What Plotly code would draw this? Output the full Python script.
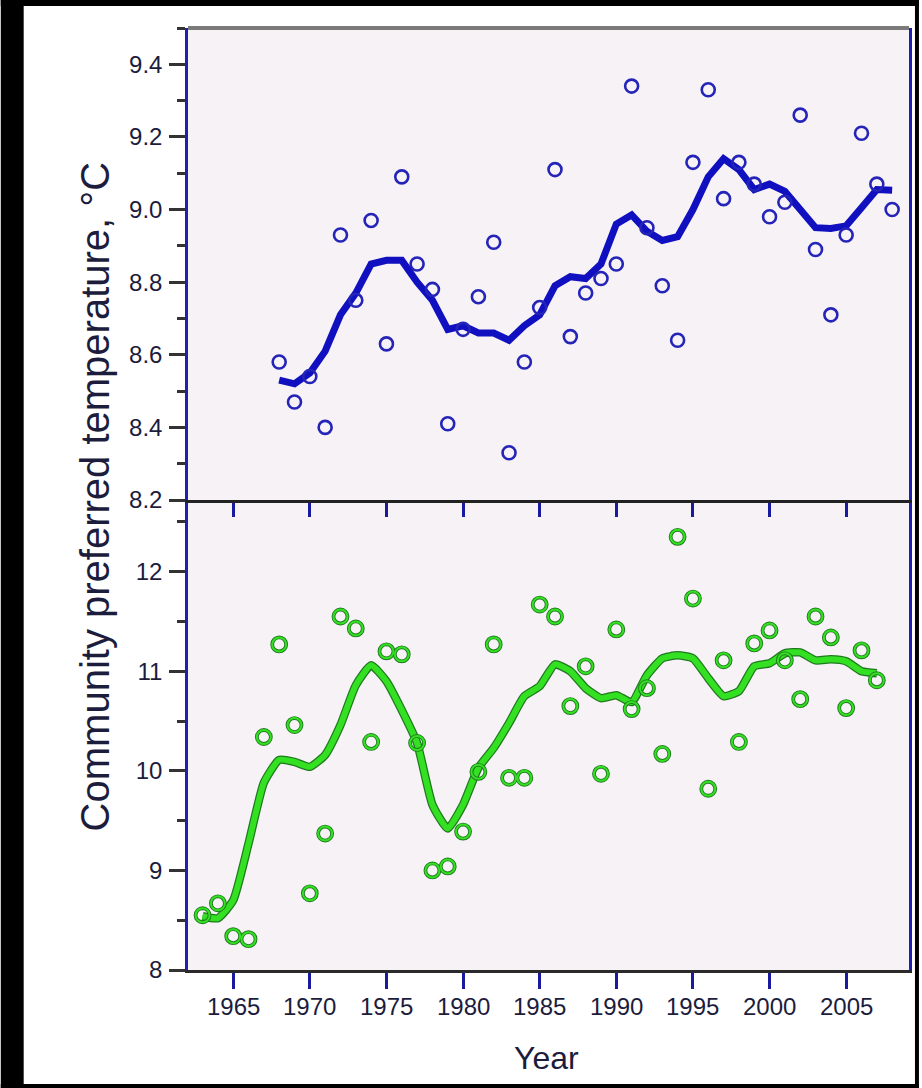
import plotly.graph_objects as go

# ---------------- data ----------------
top_years = [1968, 1969, 1970, 1971, 1972, 1973, 1974, 1975, 1976, 1977, 1978, 1979,
             1980, 1981, 1982, 1983, 1984, 1985, 1986, 1987, 1988, 1989, 1990, 1991,
             1992, 1993, 1994, 1995, 1996, 1997, 1998, 1999, 2000, 2001, 2002, 2003,
             2004, 2005, 2006, 2007, 2008]
top_values = [8.58, 8.47, 8.54, 8.40, 8.93, 8.75, 8.97, 8.63, 9.09, 8.85, 8.78, 8.41,
              8.67, 8.76, 8.91, 8.33, 8.58, 8.73, 9.11, 8.65, 8.77, 8.81, 8.85, 9.34,
              8.95, 8.79, 8.64, 9.13, 9.33, 9.03, 9.13, 9.07, 8.98, 9.02, 9.26, 8.89,
              8.71, 8.93, 9.21, 9.07, 9.00]
top_smooth = [8.53, 8.52, 8.55, 8.61, 8.71, 8.77, 8.85, 8.86, 8.86, 8.80, 8.75, 8.67,
              8.68, 8.66, 8.66, 8.64, 8.68, 8.71, 8.79, 8.815, 8.81, 8.85, 8.96, 8.985,
              8.94, 8.915, 8.925, 9.00, 9.09, 9.14, 9.11, 9.055, 9.07, 9.05, 9.00, 8.95,
              8.948, 8.955, 9.005, 9.055, 9.053]

bot_years = [1963, 1964, 1965, 1966, 1967, 1968, 1969, 1970, 1971, 1972, 1973, 1974,
             1975, 1976, 1977, 1978, 1979, 1980, 1981, 1982, 1983, 1984, 1985, 1986,
             1987, 1988, 1989, 1990, 1991, 1992, 1993, 1994, 1995, 1996, 1997, 1998,
             1999, 2000, 2001, 2002, 2003, 2004, 2005, 2006, 2007]
bot_values = [8.55, 8.67, 8.34, 8.31, 10.34, 11.27, 10.46, 8.77, 9.37, 11.55, 11.43, 10.29,
              11.20, 11.17, 10.28, 9.00, 9.04, 9.39, 9.99, 11.27, 9.93, 9.93, 11.67, 11.55,
              10.65, 11.05, 9.97, 11.42, 10.62, 10.83, 10.17, 12.35, 11.73, 9.82, 11.11, 10.29,
              11.28, 11.41, 11.11, 10.72, 11.55, 11.34, 10.63, 11.21, 10.91]
bot_smooth = [8.54, 8.52, 8.70, 9.27, 9.88, 10.11, 10.09, 10.04, 10.16, 10.46, 10.86, 11.06,
              10.90, 10.61, 10.28, 9.66, 9.42, 9.66, 10.03, 10.23, 10.48, 10.75, 10.85, 11.07,
              11.00, 10.83, 10.73, 10.76, 10.69, 10.96, 11.13, 11.16, 11.13, 10.93, 10.75, 10.80,
              11.05, 11.08, 11.18, 11.19, 11.11, 11.12, 11.10, 11.00, 10.98]

x_ticks = [1965, 1970, 1975, 1980, 1985, 1990, 1995, 2000, 2005]
top_yticks = [8.2, 8.4, 8.6, 8.8, 9.0, 9.2, 9.4]
bot_yticks = [8, 9, 10, 11, 12]

# ---------------- styling ----------------
BLUE_MK = "#2424b8"
BLUE_LN = "#1010c0"
GREEN = "#33e022"
GREEN_DK = "#1f7a1f"
TXT = "#1c1c3c"
FONT = "Liberation Sans, Arial, sans-serif"
W, H = 922, 1088
L, R, T, B = 188, 10, 28, 118
split = (970 - 500) / (H - T - B)

fig = go.Figure()

# top panel
fig.add_trace(go.Scatter(x=top_years, y=top_smooth, mode="lines",
                         line=dict(color=BLUE_LN, width=7), xaxis="x2", yaxis="y2",
                         showlegend=False))
fig.add_trace(go.Scatter(x=top_years, y=top_values, mode="markers",
                         marker=dict(symbol="circle-open", size=13,
                                     line=dict(width=2.6, color=BLUE_MK), color=BLUE_MK),
                         xaxis="x2", yaxis="y2", showlegend=False))

# bottom panel
fig.add_trace(go.Scatter(x=bot_years, y=bot_smooth, mode="lines",
                         line=dict(color=GREEN_DK, width=8.5, shape="spline", smoothing=0.5),
                         xaxis="x", yaxis="y", showlegend=False))
fig.add_trace(go.Scatter(x=bot_years, y=bot_smooth, mode="lines",
                         line=dict(color=GREEN, width=6, shape="spline", smoothing=0.5),
                         xaxis="x", yaxis="y", showlegend=False))
fig.add_trace(go.Scatter(x=bot_years, y=bot_values, mode="markers",
                         marker=dict(symbol="circle-open", size=14,
                                     line=dict(width=3.8, color=GREEN_DK), color=GREEN_DK),
                         xaxis="x", yaxis="y", showlegend=False))
fig.add_trace(go.Scatter(x=bot_years, y=bot_values, mode="markers",
                         marker=dict(symbol="circle-open", size=14,
                                     line=dict(width=2.0, color=GREEN), color=GREEN),
                         xaxis="x", yaxis="y", showlegend=False))

tickfont = dict(family=FONT, size=24, color=TXT)
xr = [1962.05, 2009.1]

fig.update_layout(
    width=W, height=H,
    margin=dict(l=L, r=R, t=T, b=B, pad=0),
    paper_bgcolor="white",
    plot_bgcolor="#f7f2f5",
    xaxis=dict(domain=[0, 1], anchor="y", range=xr, tickvals=x_ticks,
               ticks="outside", ticklen=16,
               tickwidth=2.5, tickcolor="#1a1aa0", showticklabels=False,
               showline=True, linecolor="#2a2a2a", linewidth=3,
               showgrid=False, zeroline=False),
    yaxis=dict(domain=[0, split], anchor="x", range=[8, 12.72], tickvals=bot_yticks,
               ticks="outside", ticklen=16, tickwidth=2.5, tickcolor="#333333",
               tickfont=tickfont, ticklabelstandoff=2,
               minor=dict(dtick=0.5, tick0=8, ticks="outside", ticklen=8,
                          tickwidth=2.5, tickcolor="#333333"),
               showline=True, linecolor="#2020b0", linewidth=2.5, mirror=True,
               showgrid=False, zeroline=False),
    xaxis2=dict(domain=[0, 1], anchor="y2", range=xr, tickvals=x_ticks,
                ticks="outside", ticklen=14, tickwidth=2.5, tickcolor="#1a1aa0",
                showticklabels=False,
                showline=True, linecolor="#222222", linewidth=2.5,
                showgrid=False, zeroline=False),
    yaxis2=dict(domain=[split, 1], anchor="x2", range=[8.2, 9.5], tickvals=top_yticks,
                ticktext=["%.1f" % v for v in top_yticks],
                ticks="outside", ticklen=16, tickwidth=2.5, tickcolor="#333333",
                tickfont=tickfont, ticklabelstandoff=2,
                minor=dict(dtick=0.1, tick0=8.2, ticks="outside", ticklen=8,
                           tickwidth=2.5, tickcolor="#333333"),
                showline=True, linecolor="#2020b0", linewidth=2.5, mirror=True,
                showgrid=False, zeroline=False),
)

pw = W - L - R
ph = H - T - B
def px_x(p):
    return (p - L) / pw
def px_y(p):
    return (H - B - p) / ph

shapes = []
# top border of the plot frame (gray)
shapes.append(dict(type="line", xref="paper", yref="paper", x0=0, x1=1, y0=1, y1=1,
                   line=dict(color="#7a7a7a", width=4)))
# black outer border around the white page
for (a, b, c, d) in [(0, 0, 23, H), (0, 0, W, 6), (918, 0, W, H), (0, 1084, W, H)]:
    shapes.append(dict(type="rect", xref="paper", yref="paper",
                       x0=px_x(a), x1=px_x(c), y0=px_y(d), y1=px_y(b),
                       fillcolor="black", line=dict(width=0), layer="above"))
fig.update_layout(shapes=shapes)

# x tick labels (placed as annotations tied to the x axis)
for v in x_ticks:
    fig.add_annotation(text=str(v), xref="x", yref="paper", x=v, y=px_y(1006),
                       showarrow=False, font=tickfont,
                       xanchor="center", yanchor="middle")

fig.add_annotation(text="Community preferred temperature, °C", textangle=-90,
                   xref="paper", yref="paper", x=px_x(95), y=px_y(496),
                   showarrow=False, font=dict(family=FONT, size=40, color=TXT),
                   xanchor="center", yanchor="middle")
fig.add_annotation(text="Year", xref="paper", yref="paper", x=px_x(548), y=px_y(1058),
                   showarrow=False, font=dict(family=FONT, size=32, color=TXT),
                   xanchor="center", yanchor="middle")

fig.write_html("out.html")
